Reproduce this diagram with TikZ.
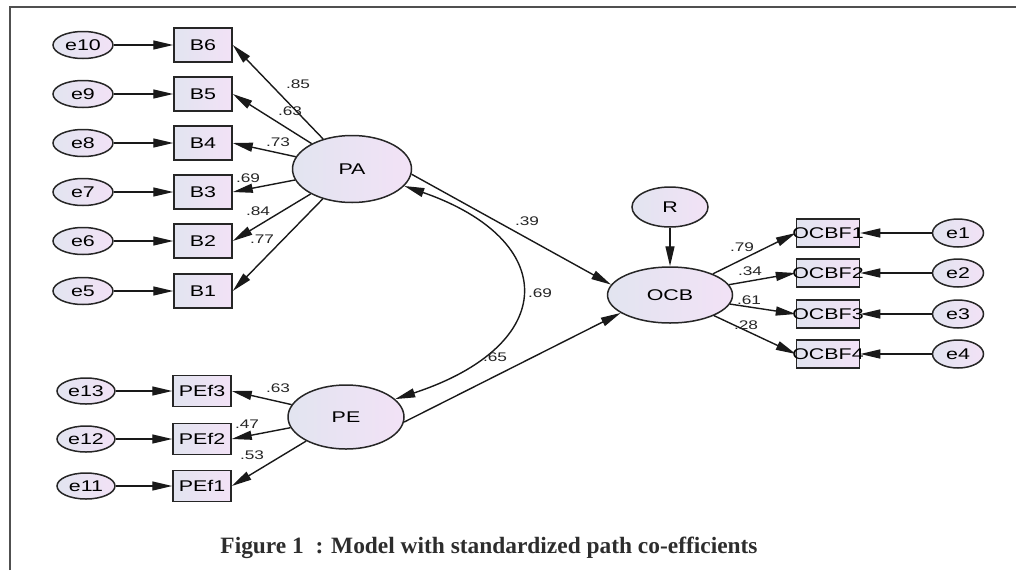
\documentclass[tikz,border=0pt]{standalone}
\usepackage{fontspec}
\usetikzlibrary{arrows.meta,shapes.geometric}
\setmainfont{Liberation Serif}
\newfontfamily\diagfont[FakeStretch=1.38]{Liberation Sans}
\definecolor{fillA}{RGB}{226,228,240}
\definecolor{fillB}{RGB}{242,226,246}
\definecolor{framegray}{RGB}{80,80,80}
\definecolor{captiongray}{RGB}{45,45,45}
\tikzset{
  latent/.style={ellipse, draw=black!85, line width=1.5pt, left color=fillA, right color=fillB,
    inner sep=0pt, font=\diagfont\fontsize{15.5}{15.5}\selectfont},
  errnode/.style={latent, minimum width=60pt, minimum height=27pt},
  obsbox/.style={rectangle, draw=black!85, line width=1.5pt, left color=fillA, right color=fillB,
    inner sep=0pt, font=\diagfont\fontsize{15.5}{15.5}\selectfont},
  path/.style={line width=1.4pt, black!90, -{Triangle[length=20pt,width=9pt]}},
  cov/.style={line width=1.4pt, black!90, {Triangle[length=20pt,width=9pt]}-{Triangle[length=20pt,width=9pt]}},
  coef/.style={font=\diagfont\fontsize{12.5}{12.5}\selectfont, text=black!85, inner sep=0pt}
}
\begin{document}
\begin{tikzpicture}[x=1pt,y=-1pt]
\useasboundingbox (0,0) rectangle (1016,570);
\draw[framegray, line width=2pt] (10,570) -- (10,7) -- (1016,7);

% PA block
\node[latent, minimum width=119pt, minimum height=67pt] (PA) at (352,169) {PA};
\foreach \n/\e/\y in {6/10/45, 5/9/94, 4/8/143, 3/7/192, 2/6/241, 1/5/291}{
  \node[errnode] (e\e) at (83,\y) {e\e};
  \node[obsbox, minimum width=58pt, minimum height=34pt] (B\n) at (203,\y) {B\n};
  \draw[path] (e\e) -- (B\n);
  \draw[path] (PA) -- (B\n.east);
}
\node[coef] (l85) at (298,84) {.85};
\node[coef] (l63) at (290,111) {.63};
\node[coef] (l73) at (278,142) {.73};
\node[coef] (l69a) at (248,178) {.69};
\node[coef] (l84) at (258,211) {.84};
\node[coef] (l77) at (262,239) {.77};

% PE block
\node[latent, minimum width=116pt, minimum height=64pt] (PE) at (346,417) {PE};
\foreach \n/\e/\y in {3/13/391, 2/12/439, 1/11/486}{
  \node[errnode, minimum width=58pt, minimum height=26pt] (e\e) at (86,\y) {e\e};
  \node[obsbox, minimum width=58pt, minimum height=31pt] (PEf\n) at (202,\y) {PEf\n};
  \draw[path] (e\e) -- (PEf\n);
  \draw[path] (PE) -- (PEf\n.east);
}
\node[coef] (l63b) at (278,388) {.63};
\node[coef] (l47) at (247,424) {.47};
\node[coef] (l53) at (252,455) {.53};

% OCB block
\node[latent, minimum width=125pt, minimum height=56pt] (OCB) at (670,295) {OCB};
\node[latent, minimum width=76pt, minimum height=40pt] (R) at (670,207) {R};
\draw[path] (R) -- (OCB);
\foreach \n/\y in {1/233, 2/273, 3/314, 4/354}{
  \node[obsbox, minimum width=63pt, minimum height=28pt] (OCBF\n) at (828,\y) {\makebox[0pt]{OCBF\n}};
  \node[errnode, minimum width=51pt, minimum height=28pt] (ee\n) at (958,\y) {e\n};
  \draw[path] (ee\n) -- (OCBF\n.east);
  \draw[path] (OCB) -- (OCBF\n.west);
}
\node[coef] (l79) at (742,247) {.79};
\node[coef] (l34) at (750,271) {.34};
\node[coef] (l61) at (749,300) {.61};
\node[coef] (l28) at (746,325) {.28};

% structural paths
\draw[path] (PA.-5) -- (OCB.170);
\draw[path] (PE.-5) -- (OCB.200);
\draw[cov] (PA.-18) .. controls (560,240) and (560,345) .. (PE.20);
\node[coef] (l39) at (527,221) {.39};
\node[coef] (l69) at (540,293) {.69};
\node[coef] (l65) at (495,357) {.65};

% caption
\node[font=\bfseries\fontsize{23.4}{23.4}\selectfont, text=captiongray] (cap) at (489,548)
  {Figure 1\enspace: Model with standardized path co-efficients};
\end{tikzpicture}
\end{document}
